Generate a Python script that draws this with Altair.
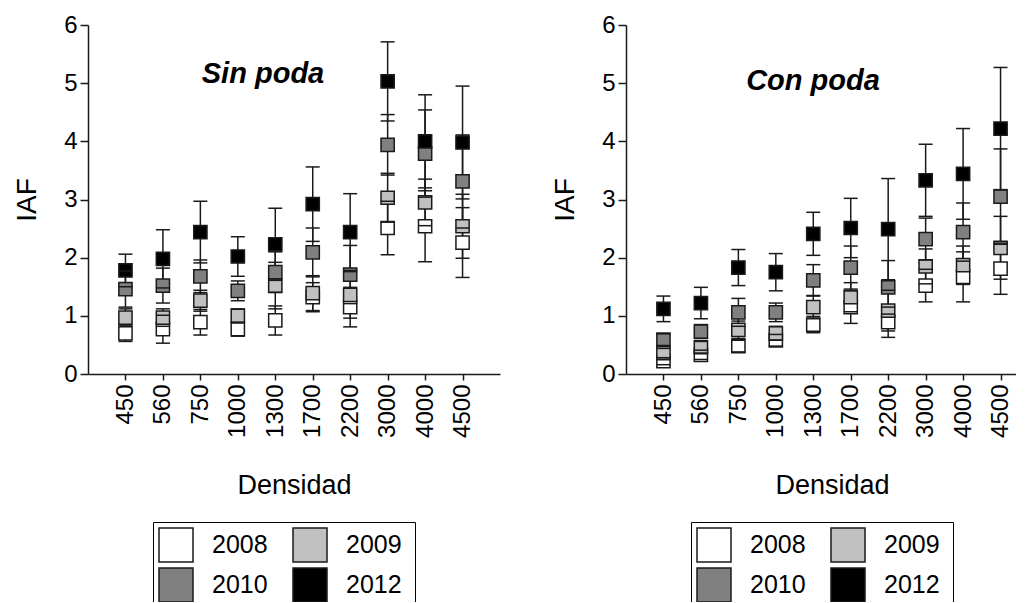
import altair as alt
import pandas as pd

densidad = ["450", "560", "750", "1000", "1300", "1700", "2200", "3000", "4000", "4500"]
years = ["2008", "2009", "2010", "2012"]
year_colors = {"2008": "#ffffff", "2009": "#c0c0c0", "2010": "#808080", "2012": "#000000"}
# legend is filled column by column: this order puts 2008 2009 / 2010 2012 in rows
legend_order = ["2008", "2010", "2009", "2012"]
panel_titles = ["Sin poda", "Con poda"]

# Sin poda (means)
sin_2008 = [0.70, 0.77, 0.89, 0.77, 0.92, 1.32, 1.15, 2.51, 2.54, 2.26]
sin_2009 = [0.97, 0.97, 1.26, 1.00, 1.52, 1.39, 1.36, 3.03, 2.95, 2.54]
sin_2010 = [1.46, 1.52, 1.68, 1.43, 1.75, 2.09, 1.71, 3.94, 3.79, 3.31]
sin_2012 = [1.78, 1.98, 2.44, 2.02, 2.23, 2.92, 2.44, 5.03, 4.00, 3.98]
# Sin poda (error)
sin_err_2008 = [0.14, 0.24, 0.22, 0.12, 0.25, 0.25, 0.34, 0.46, 0.61, 0.60]
sin_err_2009 = [0.15, 0.15, 0.18, 0.12, 0.40, 0.30, 0.40, 0.42, 0.40, 0.55]
sin_err_2010 = [0.31, 0.30, 0.28, 0.17, 0.35, 0.42, 0.50, 0.52, 0.75, 0.80]
sin_err_2012 = [0.28, 0.50, 0.53, 0.34, 0.62, 0.64, 0.66, 0.68, 0.80, 0.97]

# Con poda (means)
con_2008 = [0.22, 0.33, 0.48, 0.58, 0.85, 1.15, 0.89, 1.52, 1.67, 1.81]
con_2009 = [0.36, 0.46, 0.76, 0.70, 1.15, 1.32, 1.09, 1.85, 1.87, 2.17]
con_2010 = [0.59, 0.73, 1.06, 1.06, 1.61, 1.83, 1.49, 2.32, 2.44, 3.05]
con_2012 = [1.12, 1.22, 1.83, 1.75, 2.41, 2.51, 2.49, 3.33, 3.44, 4.22]
# Con poda (error)
con_err_2008 = [0.06, 0.08, 0.10, 0.10, 0.14, 0.28, 0.26, 0.28, 0.43, 0.44]
con_err_2009 = [0.08, 0.10, 0.15, 0.12, 0.20, 0.25, 0.35, 0.30, 0.33, 0.54]
con_err_2010 = [0.10, 0.12, 0.24, 0.16, 0.27, 0.37, 0.46, 0.36, 0.50, 0.82]
con_err_2012 = [0.22, 0.27, 0.31, 0.32, 0.37, 0.51, 0.87, 0.62, 0.78, 1.05]

FONT = "Liberation Sans"
INK = "#1a1a1a"


def make_df(means, errs):
    rows = []
    for yr, m_list, e_list in zip(years, means, errs):
        for d, m, e in zip(densidad, m_list, e_list):
            rows.append({"densidad": d, "year": yr, "iaf": m, "lo": m - e, "hi": m + e})
    return pd.DataFrame(rows)


def panel(df, title, tx, ty):
    x = alt.X(
        "densidad:N",
        sort=densidad,
        scale=alt.Scale(type="point", padding=1),
        axis=alt.Axis(
            title="Densidad",
            labelAngle=270,
            labelFontSize=24,
            labelPadding=4,
            tickSize=6,
            titleFontSize=27,
            titlePadding=35,
        ),
    )
    yscale = alt.Scale(domain=[0, 6], nice=False, zero=True)
    yaxis = alt.Axis(
        title="IAF",
        values=[0, 1, 2, 3, 4, 5, 6],
        format="d",
        labelFontSize=24,
        labelPadding=3,
        tickSize=8,
        titleFontSize=28,
        titlePadding=22,
        grid=False,
    )
    base = alt.Chart(df)
    rules = base.mark_rule(color=INK, strokeWidth=1.5).encode(
        x=x, y=alt.Y("lo:Q", scale=yscale, axis=yaxis), y2="hi:Q"
    )
    pts = base.mark_square(size=175, stroke=INK, strokeWidth=1.5, opacity=1).encode(
        x=x,
        y=alt.Y("iaf:Q", scale=yscale),
        fill=alt.Fill(
            "year:N",
            scale=alt.Scale(domain=legend_order, range=[year_colors[k] for k in legend_order]),
            legend=alt.Legend(
                title="\u00a0",
                titleOrient="right",
                titlePadding=8,
                titleFontSize=2,
                orient="none",
                legendX=65,
                legendY=497,
                columns=2,
                symbolType="square",
                symbolSize=1156,
                symbolStrokeColor=INK,
                symbolStrokeWidth=1.5,
                symbolOpacity=1,
                labelFontSize=25,
                labelFont=FONT,
                labelColor="black",
                labelOffset=18,
                columnPadding=22,
                rowPadding=0,
                padding=5,
                strokeColor="black",
            ),
        ),
    )
    caps_lo = base.mark_tick(color=INK, size=14, thickness=1.5, opacity=1).encode(
        x=x, y=alt.Y("lo:Q", scale=yscale)
    )
    caps_hi = base.mark_tick(color=INK, size=14, thickness=1.5, opacity=1).encode(
        x=x, y=alt.Y("hi:Q", scale=yscale)
    )
    label = alt.Chart(pd.DataFrame({"t": [title]})).mark_text(
        font=FONT, fontSize=29, fontStyle="italic", fontWeight="bold",
        align="center", baseline="alphabetic", color="black",
    ).encode(text="t:N", x=alt.value(tx), y=alt.value(ty))
    return alt.layer(rules, pts, caps_lo, caps_hi, label).properties(width=412, height=349)


df_sin = make_df([sin_2008, sin_2009, sin_2010, sin_2012],
                 [sin_err_2008, sin_err_2009, sin_err_2010, sin_err_2012])
df_con = make_df([con_2008, con_2009, con_2010, con_2012],
                 [con_err_2008, con_err_2009, con_err_2010, con_err_2012])

left = panel(df_sin, panel_titles[0], 175, 58)
right = panel(df_con, panel_titles[1], 187, 65)

chart = (
    alt.hconcat(left, right, spacing=51)
    .resolve_scale(fill="independent", x="independent", y="independent")
    .resolve_legend(fill="independent")
    .properties(padding={"left": 5, "top": 5, "right": -22, "bottom": -9})
    .configure(font=FONT, background="white")
    .configure_view(stroke=None)
    .configure_axis(
        labelFont=FONT, titleFont=FONT, labelColor="black", titleColor="black",
        titleFontWeight="normal", domainColor=INK, domainWidth=1.5,
        tickColor=INK, tickWidth=1.5, grid=False,
    )
)

chart.save("out.html", embed_options={"renderer": "svg", "actions": False})
